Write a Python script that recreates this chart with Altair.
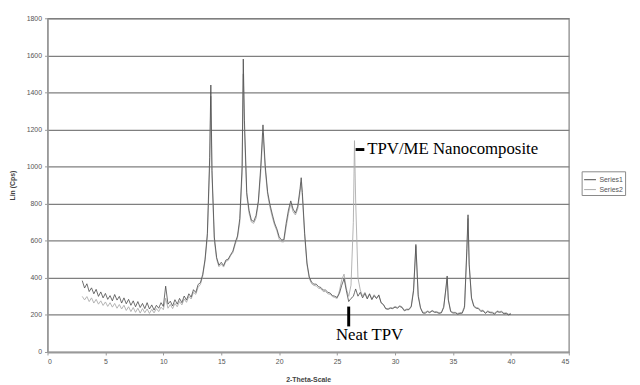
import altair as alt
import pandas as pd

theta = [
    3.0, 3.2, 3.4, 3.6, 3.8,
    4.0, 4.2, 4.4, 4.6, 4.8,
    5.0, 5.2, 5.4, 5.6, 5.8,
    6.0, 6.2, 6.4, 6.6, 6.8,
    7.0, 7.2, 7.4, 7.6, 7.8,
    8.0, 8.2, 8.4, 8.6, 8.8,
    9.0, 9.2, 9.4, 9.6, 9.8,
    10.0, 10.2, 10.4, 10.6, 10.8,
    11.0, 11.2, 11.4, 11.6, 11.8,
    12.0, 12.2, 12.4, 12.6, 12.8,
    13.0, 13.2, 13.4, 13.6, 13.8,
    14.0, 14.1, 14.2, 14.4, 14.6, 14.8,
    15.0, 15.2, 15.4, 15.6, 15.8,
    16.0, 16.2, 16.4, 16.6, 16.8, 16.9,
    17.0, 17.2, 17.4, 17.6, 17.8,
    18.0, 18.2, 18.4, 18.6, 18.8,
    19.0, 19.2, 19.4, 19.6, 19.8,
    20.0, 20.2, 20.4, 20.6, 20.8,
    21.0, 21.2, 21.4, 21.6, 21.8, 21.9,
    22.0, 22.2, 22.4, 22.6, 22.8,
    23.0, 23.2, 23.4, 23.6, 23.8,
    24.0, 24.2, 24.4, 24.6, 24.8,
    25.0, 25.2, 25.4, 25.6, 25.8,
    26.0, 26.2, 26.4, 26.5, 26.6, 26.8,
    27.0, 27.2, 27.4, 27.6, 27.8,
    28.0, 28.2, 28.4, 28.6, 28.8,
    29.0, 29.2, 29.4, 29.6, 29.8,
    30.0, 30.2, 30.4, 30.6, 30.8,
    31.0, 31.2, 31.4, 31.6, 31.8,
    32.0, 32.2, 32.4, 32.6, 32.8,
    33.0, 33.2, 33.4, 33.6, 33.8,
    34.0, 34.2, 34.4, 34.5, 34.6, 34.8,
    35.0, 35.2, 35.4, 35.6, 35.8,
    36.0, 36.2, 36.3, 36.4, 36.6, 36.8,
    37.0, 37.2, 37.4, 37.6, 37.8,
    38.0, 38.2, 38.4, 38.6, 38.8,
    39.0, 39.2, 39.4, 39.6, 39.8,
    40.0,
]

series1 = [
    385, 345, 368, 326, 346,
    314, 338, 300, 324, 292,
    316, 284, 304, 276, 310,
    280, 300, 264, 292, 260,
    284, 252, 276, 244, 272,
    240, 262, 234, 266, 232,
    254, 226, 252, 236, 266,
    246, 355, 258, 274, 248,
    282, 258, 289, 266, 302,
    280, 314, 296, 336, 321,
    364, 374, 419, 500, 640,
    1050, 1440, 980, 620, 510, 468,
    484, 466, 496, 501, 524,
    544, 589, 626, 720, 1000, 1580,
    1250, 860, 764, 711, 704,
    736, 814, 990, 1225, 1000,
    864, 796, 744, 696, 664,
    621, 604, 606, 694, 766,
    815, 771, 749, 786, 880, 940,
    860, 640, 480, 404, 376,
    366, 366, 352, 348, 334,
    334, 322, 318, 304, 301,
    294, 316, 360, 395, 330,
    272, 289, 300, 320, 340, 301,
    322, 292, 316, 286, 312,
    282, 304, 288, 308, 266,
    256, 234, 230, 236, 234,
    242, 236, 246, 240, 222,
    228, 228, 244, 330, 580,
    300, 236, 210, 209, 218,
    212, 222, 214, 214, 208,
    211, 240, 350, 410, 280, 218,
    210, 211, 204, 208, 209,
    240, 560, 740, 470, 290, 246,
    236, 234, 219, 222, 208,
    218, 212, 211, 204, 218,
    214, 216, 206, 208, 200,
    205,
]

series2 = [
    300, 281, 299, 272, 292,
    264, 284, 258, 276, 251,
    270, 246, 266, 242, 262,
    236, 256, 232, 252, 224,
    244, 218, 240, 214, 236,
    210, 234, 212, 232, 208,
    230, 211, 234, 218, 242,
    228, 290, 236, 256, 234,
    262, 244, 272, 254, 286,
    268, 300, 286, 322, 311,
    349, 364, 409, 490, 620,
    1000, 1380, 950, 600, 500, 460,
    474, 458, 489, 494, 519,
    536, 579, 616, 700, 960, 1500,
    1200, 840, 749, 701, 694,
    721, 799, 960, 1180, 980,
    849, 781, 729, 684, 654,
    608, 594, 594, 674, 746,
    800, 756, 739, 771, 860, 915,
    840, 625, 470, 396, 368,
    359, 356, 344, 341, 326,
    326, 314, 311, 299, 294,
    289, 330, 390, 420, 340,
    300, 360, 700, 1140, 820, 400,
    334, 301, 322, 292, 316,
    286, 309, 291, 304, 264,
    254, 232, 234, 240, 238,
    246, 240, 250, 244, 226,
    232, 231, 249, 340, 570,
    310, 240, 214, 214, 222,
    216, 224, 218, 218, 212,
    214, 245, 340, 400, 285, 222,
    214, 214, 208, 212, 214,
    250, 540, 720, 480, 295, 251,
    240, 238, 224, 226, 212,
    222, 216, 215, 209, 222,
    218, 220, 210, 212, 204,
    209,
]

series_names = ["Series1", "Series2"]
series_colors = ["#4a4a4a", "#ababab"]

x_ticks = [0, 5, 10, 15, 20, 25, 30, 35, 40, 45]
y_ticks = [0, 200, 400, 600, 800, 1000, 1200, 1400, 1600, 1800]

ann_text = ["TPV/ME Nanocomposite", "Neat TPV"]
ann_x = [27.6, 24.9]
ann_y = [1092, 90]

hbar_x = [26.6]
hbar_x2 = [27.35]
hbar_y = [1092]
vbar_x = [26.0]
vbar_y = [138]
vbar_y2 = [245]

assert len(theta) == len(series1) == len(series2)

df = pd.DataFrame({
    "theta": theta * 2,
    "value": series1 + series2,
    "series": ["Series1"] * len(theta) + ["Series2"] * len(theta),
})

xscale = alt.Scale(domain=[0, 45], nice=False)
yscale = alt.Scale(domain=[0, 1800], nice=False)
cscale = alt.Scale(domain=series_names, range=series_colors)

xaxis = alt.Axis(
    values=x_ticks, title="2-Theta-Scale",
    titleX=264, titleY=28, titleBaseline="middle", titleAlign="center",
    grid=False, tickSize=3, labelPadding=3, labelOverlap=False, format="d",
)
yaxis = alt.Axis(
    values=y_ticks, title="Lin (Cps)",
    titleX=-35, titleY=169, titleAngle=270, titleAlign="center", titleBaseline="middle",
    grid=True, tickSize=3, labelPadding=3, labelOverlap=False, format="d",
)

legend = alt.Legend(
    title=None, orient="none", legendX=541, legendY=155, direction="vertical",
    symbolType="stroke", symbolSize=144, symbolStrokeWidth=1,
    labelFontSize=7, labelFont="Liberation Sans", labelColor="#555555",
    strokeColor="#888888", padding=2, rowPadding=0, labelOffset=3,
)

X = lambda f: alt.X(f, scale=xscale, axis=xaxis)
Y = lambda f: alt.Y(f, scale=yscale, axis=yaxis)

base = alt.Chart(df)

line2 = base.transform_filter(alt.datum.series == "Series2").mark_line(strokeWidth=0.9).encode(
    x=X("theta:Q"), y=Y("value:Q"),
    color=alt.Color("series:N", scale=cscale, legend=legend),
)
line1 = base.transform_filter(alt.datum.series == "Series1").mark_line(strokeWidth=0.8).encode(
    x=X("theta:Q"), y=Y("value:Q"),
    color=alt.Color("series:N", scale=cscale, legend=legend),
)

ann_df = pd.DataFrame({"t": ann_text, "x": ann_x, "y": ann_y})
texts = alt.Chart(ann_df).mark_text(
    align="left", baseline="middle", font="Liberation Serif", fontSize=17, color="black"
).encode(x=X("x:Q"), y=Y("y:Q"), text="t:N")

hbar = alt.Chart(pd.DataFrame({"x": hbar_x, "x2": hbar_x2, "y": hbar_y})).mark_rule(
    color="black", strokeWidth=3
).encode(x=X("x:Q"), x2="x2:Q", y=Y("y:Q"))

vbar = alt.Chart(pd.DataFrame({"x": vbar_x, "y": vbar_y, "y2": vbar_y2})).mark_rule(
    color="black", strokeWidth=3
).encode(x=X("x:Q"), y=Y("y:Q"), y2="y2:Q")

chart = alt.layer(line2, line1, texts, hbar, vbar).properties(
    width=528, height=338,
    autosize=alt.AutoSizeParams(type="none"),
    padding={"left": 40, "top": 8, "right": 64, "bottom": 30},
).configure_view(
    stroke="#808080", strokeWidth=1.2
).configure_axis(
    labelFont="Liberation Sans", labelFontSize=7, labelColor="#555555",
    titleFont="Liberation Sans", titleFontSize=7, titleFontWeight="bold", titleColor="#444444",
    domainColor="#999999", domainWidth=1.5, tickColor="#999999", gridColor="#7f7f7f", gridWidth=1.3,
)

chart.save("out.html", embed_options={"renderer": "svg", "actions": False})
